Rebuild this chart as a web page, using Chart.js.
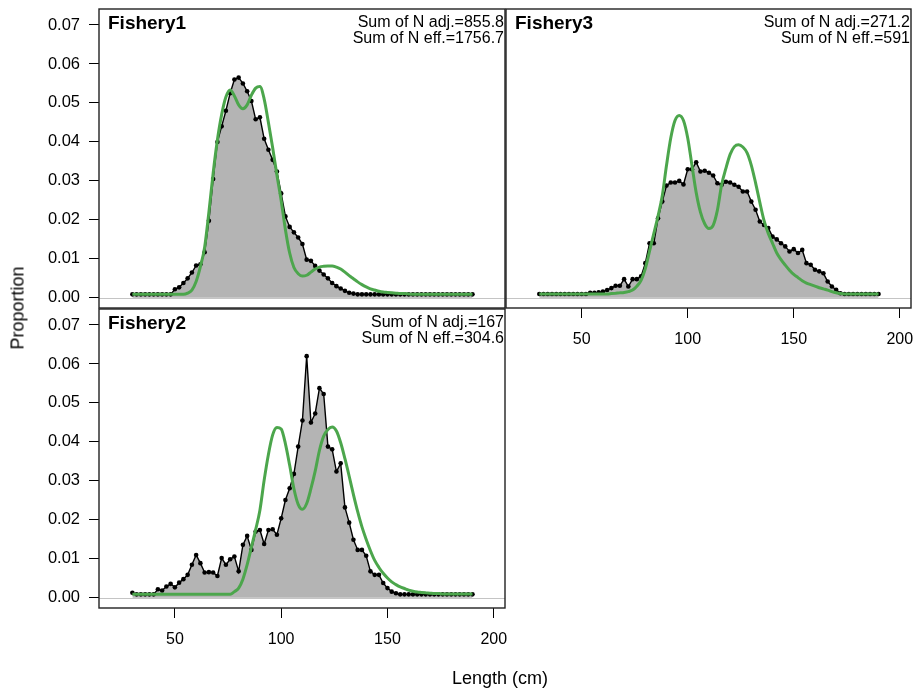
<!DOCTYPE html>
<html>
<head>
<meta charset="utf-8">
<script src="https://cdn.jsdelivr.net/npm/chart.js@4/dist/chart.umd.min.js"></script>
<style>
  body { margin: 0; background: #fff; }
  #wrap { position: relative; width: 915px; height: 692px; font-family: 'Liberation Sans', Arial, sans-serif; }
  #wrap canvas { position: absolute; left: 0; top: 0; }
  .axtitle { position: absolute; font-size: 18px; color: #000; white-space: nowrap; }
  #ylab { left: 18px; top: 308px; transform: translate(-50%, -50%) rotate(-90deg); }
  #xlab { left: 500px; top: 678px; transform: translate(-50%, -50%); }
</style>
</head>
<body>
<div id="wrap">
  <canvas id="c1" width="915" height="692"></canvas>
  <canvas id="c2" width="915" height="692"></canvas>
  <canvas id="c3" width="915" height="692"></canvas>
  <div class="axtitle" id="ylab">Proportion</div>
  <div class="axtitle" id="xlab">Length (cm)</div>
</div>
<script>
// length bins (cm)
const lengths = [30, 32, 34, 36, 38, 40, 42, 44, 46, 48, 50, 52, 54, 56, 58, 60, 62, 64, 66, 68,
  70, 72, 74, 76, 78, 80, 82, 84, 86, 88, 90, 92, 94, 96, 98, 100, 102, 104, 106, 108,
  110, 112, 114, 116, 118, 120, 122, 124, 126, 128, 130, 132, 134, 136, 138, 140, 142, 144, 146, 148,
  150, 152, 154, 156, 158, 160, 162, 164, 166, 168, 170, 172, 174, 176, 178, 180, 182, 184, 186, 188, 190];

const xTicks = [50, 100, 150, 200];
const yTicks = [0, 0.01, 0.02, 0.03, 0.04, 0.05, 0.06, 0.07];

// Fishery1
const obs1 = [0.0009, 0.0009, 0.0009, 0.0009, 0.0009, 0.0009, 0.0009, 0.0009, 0.0009, 0.0009,
  0.0022, 0.0027, 0.0038, 0.0050, 0.0065, 0.0083, 0.0086, 0.0117, 0.0198, 0.0305,
  0.0400, 0.0440, 0.0480, 0.0525, 0.0560, 0.0565, 0.0550, 0.0530, 0.0505, 0.0458,
  0.0463, 0.0408, 0.0380, 0.0354, 0.0324, 0.0268, 0.0209, 0.0182, 0.0168, 0.0155,
  0.0138, 0.0098, 0.0095, 0.0082, 0.0070, 0.0060, 0.0050, 0.0038, 0.0030, 0.0024,
  0.0018, 0.0013, 0.0011, 0.0009, 0.0009, 0.0009, 0.0009, 0.0009, 0.0009, 0.0009,
  0.0009, 0.0009, 0.0009, 0.0009, 0.0009, 0.0009, 0.0009, 0.0009, 0.0009, 0.0009,
  0.0009, 0.0009, 0.0009, 0.0009, 0.0009, 0.0009, 0.0009, 0.0009, 0.0009, 0.0009, 0.0009];
const exp1 = [0.0009, 0.0009, 0.0009, 0.0009, 0.0009, 0.0009, 0.0009, 0.0009, 0.0009, 0.0009,
  0.0009, 0.0009, 0.0009, 0.0012, 0.0020, 0.0042, 0.0080, 0.0130, 0.0220, 0.0320,
  0.0405, 0.0470, 0.0515, 0.0533, 0.0518, 0.0495, 0.0485, 0.0495, 0.0520, 0.0538,
  0.0542, 0.0510, 0.0450, 0.0385, 0.0315, 0.0250, 0.0175, 0.0115, 0.0078, 0.0062,
  0.0056, 0.0058, 0.0066, 0.0074, 0.0079, 0.0081, 0.0082, 0.0082, 0.0079, 0.0074,
  0.0066, 0.0057, 0.0049, 0.0041, 0.0034, 0.0028, 0.0023, 0.0020, 0.0017, 0.0015,
  0.0014, 0.0013, 0.0012, 0.0011, 0.0011, 0.0010, 0.0009, 0.0009, 0.0009, 0.0009,
  0.0009, 0.0009, 0.0009, 0.0009, 0.0009, 0.0009, 0.0009, 0.0009, 0.0009, 0.0009, 0.0009];

// Fishery2
const obs2 = [0.0013, 0.0009, 0.0009, 0.0009, 0.0009, 0.0009, 0.0022, 0.0019, 0.0029, 0.0036,
  0.0027, 0.0039, 0.0048, 0.0059, 0.0085, 0.0110, 0.0089, 0.0065, 0.0066, 0.0065,
  0.0056, 0.0102, 0.0085, 0.0099, 0.0106, 0.0068, 0.0136, 0.0159, 0.0123, 0.0170,
  0.0174, 0.0138, 0.0174, 0.0176, 0.0162, 0.0204, 0.0251, 0.0281, 0.0318, 0.0388,
  0.0455, 0.0620, 0.0450, 0.0473, 0.0538, 0.0523, 0.0388, 0.0381, 0.0324, 0.0345,
  0.0232, 0.0193, 0.0149, 0.0123, 0.0123, 0.0108, 0.0068, 0.0059, 0.0059, 0.0038,
  0.0025, 0.0016, 0.0012, 0.0009, 0.0009, 0.0009, 0.0009, 0.0009, 0.0009, 0.0009,
  0.0009, 0.0009, 0.0009, 0.0009, 0.0009, 0.0009, 0.0009, 0.0009, 0.0009, 0.0009, 0.0009];
const exp2 = [0.0009, 0.0009, 0.0009, 0.0009, 0.0009, 0.0009, 0.0009, 0.0009, 0.0009, 0.0009,
  0.0009, 0.0009, 0.0009, 0.0009, 0.0009, 0.0009, 0.0009, 0.0009, 0.0009, 0.0009,
  0.0009, 0.0009, 0.0009, 0.0009, 0.0016, 0.0025, 0.0048, 0.0085, 0.0130, 0.0175,
  0.0225, 0.0302, 0.0368, 0.0418, 0.0437, 0.0433, 0.0395, 0.0340, 0.0280, 0.0240,
  0.0227, 0.0242, 0.0280, 0.0325, 0.0378, 0.0415, 0.0432, 0.0438, 0.0428, 0.0398,
  0.0357, 0.0312, 0.0265, 0.0221, 0.0182, 0.0150, 0.0121, 0.0096, 0.0078, 0.0063,
  0.0051, 0.0041, 0.0034, 0.0028, 0.0024, 0.0020, 0.0017, 0.0015, 0.0014, 0.0013,
  0.0012, 0.0011, 0.0011, 0.0010, 0.0010, 0.0010, 0.0010, 0.0010, 0.0010, 0.0010, 0.0010];

// Fishery3
const obs3 = [0.0010, 0.0010, 0.0010, 0.0010, 0.0010, 0.0010, 0.0010, 0.0010, 0.0010, 0.0010,
  0.0010, 0.0010, 0.0013, 0.0013, 0.0014, 0.0016, 0.0020, 0.0025, 0.0031, 0.0031,
  0.0048, 0.0029, 0.0048, 0.0048, 0.0055, 0.0089, 0.0140, 0.0140, 0.0204, 0.0247,
  0.0288, 0.0296, 0.0296, 0.0300, 0.0291, 0.0330, 0.0330, 0.0348, 0.0324, 0.0326,
  0.0321, 0.0314, 0.0294, 0.0290, 0.0298, 0.0296, 0.0290, 0.0285, 0.0273, 0.0273,
  0.0247, 0.0226, 0.0196, 0.0187, 0.0179, 0.0157, 0.0150, 0.0140, 0.0132, 0.0119,
  0.0125, 0.0115, 0.0123, 0.0089, 0.0085, 0.0072, 0.0068, 0.0063, 0.0042, 0.0029,
  0.0021, 0.0012, 0.0010, 0.0010, 0.0010, 0.0010, 0.0010, 0.0010, 0.0010, 0.0010, 0.0010];
const exp3 = [0.0010, 0.0010, 0.0010, 0.0010, 0.0010, 0.0010, 0.0010, 0.0010, 0.0010, 0.0010,
  0.0010, 0.0010, 0.0010, 0.0010, 0.0010, 0.0010, 0.0010, 0.0011, 0.0012, 0.0013,
  0.0014, 0.0016, 0.0020, 0.0030, 0.0045, 0.0075, 0.0120, 0.0165, 0.0210, 0.0262,
  0.0340, 0.0410, 0.0455, 0.0468, 0.0455, 0.0410, 0.0340, 0.0270, 0.0220, 0.0190,
  0.0178, 0.0186, 0.0225, 0.0290, 0.0332, 0.0368, 0.0388, 0.0393, 0.0387, 0.0372,
  0.0340, 0.0295, 0.0245, 0.0198, 0.0165, 0.0140, 0.0115, 0.0098, 0.0084, 0.0071,
  0.0060, 0.0052, 0.0044, 0.0038, 0.0034, 0.0030, 0.0026, 0.0023, 0.0020, 0.0016,
  0.0013, 0.0011, 0.0010, 0.0010, 0.0010, 0.0010, 0.0010, 0.0010, 0.0010, 0.0010, 0.0010];

const FONT = "'Liberation Sans', Arial, sans-serif";

// frame, zero line and the panel texts
const panelDecor = {
    id: 'panelDecor',
    beforeDatasetsDraw(chart) {
        const a = chart.chartArea;
        const y0 = chart.scales.y.getPixelForValue(0);
        const ctx = chart.ctx;
        ctx.save();
        ctx.strokeStyle = '#c4c4c4';
        ctx.lineWidth = 1;
        ctx.beginPath();
        ctx.moveTo(a.left, Math.round(y0) + 0.5);
        ctx.lineTo(a.right, Math.round(y0) + 0.5);
        ctx.stroke();
        ctx.restore();
    },
    afterDraw(chart, args, opts) {
        const a = chart.chartArea;
        const ctx = chart.ctx;
        ctx.save();
        ctx.strokeStyle = '#222';
        ctx.lineWidth = 1.4;
        ctx.strokeRect(a.left, a.top, a.right - a.left, a.bottom - a.top);
        ctx.fillStyle = '#000';
        ctx.font = 'bold 19px ' + FONT;
        ctx.textAlign = 'left';
        ctx.textBaseline = 'alphabetic';
        ctx.fillText(opts.name, a.left + 9, a.top + 20);
        ctx.font = '16px ' + FONT;
        ctx.textAlign = 'right';
        ctx.fillText(opts.line1, a.right - 1, a.top + 17.5);
        ctx.fillText(opts.line2, a.right - 1, a.top + 33.5);
        ctx.restore();
    }
};

function makePanel(id, obs, exp, cfg) {
    const obsPts = lengths.map((l, i) => ({ x: l, y: obs[i] }));
    const expPts = lengths.map((l, i) => ({ x: l, y: exp[i] }));
    new Chart(document.getElementById(id), {
        type: 'line',
        data: {
            datasets: [
                {
                    label: 'expected',
                    data: expPts,
                    borderColor: '#4ca64c',
                    borderWidth: 3,
                    pointRadius: 0,
                    fill: false,
                    cubicInterpolationMode: 'monotone',
                    order: 0
                },
                {
                    label: 'observed',
                    data: obsPts,
                    borderColor: '#000',
                    borderWidth: 1.4,
                    pointRadius: 2.3,
                    pointBorderWidth: 0,
                    pointBackgroundColor: '#000',
                    backgroundColor: '#b4b4b4',
                    fill: 'origin',
                    tension: 0,
                    order: 1
                }
            ]
        },
        options: {
            responsive: false,
            animation: false,
            devicePixelRatio: 1,
            events: [],
            layout: { padding: cfg.padding },
            plugins: {
                legend: { display: false },
                tooltip: { enabled: false },
                panelDecor: { name: cfg.name, line1: cfg.line1, line2: cfg.line2 }
            },
            scales: {
                x: {
                    type: 'linear',
                    min: 14.3,
                    max: 205.3,
                    display: cfg.showX,
                    afterBuildTicks: s => { s.ticks = xTicks.map(v => ({ value: v })); },
                    afterFit: s => {
                        s.height = cfg.showX ? 40 : 0;
                        s.paddingLeft = 0; s.paddingRight = 0;
                    },
                    ticks: { color: '#000', font: { family: FONT, size: 16 }, padding: 12, maxRotation: 0, autoSkip: false },
                    grid: { drawOnChartArea: false, drawTicks: true, tickLength: 10, tickColor: '#000', tickWidth: 1 },
                    border: { display: false }
                },
                y: {
                    type: 'linear',
                    min: -0.0026,
                    max: 0.0741,
                    display: cfg.showY,
                    afterBuildTicks: s => { s.ticks = yTicks.map(v => ({ value: v })); },
                    afterFit: s => {
                        s.width = cfg.showY ? 99 : 0;
                        s.paddingTop = 0; s.paddingBottom = 0;
                    },
                    ticks: { color: '#000', font: { family: FONT, size: 16.5 }, padding: 9, callback: v => v.toFixed(2) },
                    grid: { drawOnChartArea: false, drawTicks: true, tickLength: 10, tickColor: '#000', tickWidth: 1 },
                    border: { display: false }
                }
            }
        },
        plugins: [panelDecor]
    });
}

makePanel('c1', obs1, exp1, {
    name: 'Fishery1', line1: 'Sum of N adj.=855.8', line2: 'Sum of N eff.=1756.7',
    showX: false, showY: true,
    padding: { left: 0, top: 9, right: 410, bottom: 384 }
});
makePanel('c2', obs2, exp2, {
    name: 'Fishery2', line1: 'Sum of N adj.=167', line2: 'Sum of N eff.=304.6',
    showX: true, showY: true,
    padding: { left: 0, top: 309, right: 410, bottom: 44 }
});
makePanel('c3', obs3, exp3, {
    name: 'Fishery3', line1: 'Sum of N adj.=271.2', line2: 'Sum of N eff.=591',
    showX: true, showY: false,
    padding: { left: 506, top: 9, right: 2, bottom: 344 }
});
</script>
</body>
</html>
